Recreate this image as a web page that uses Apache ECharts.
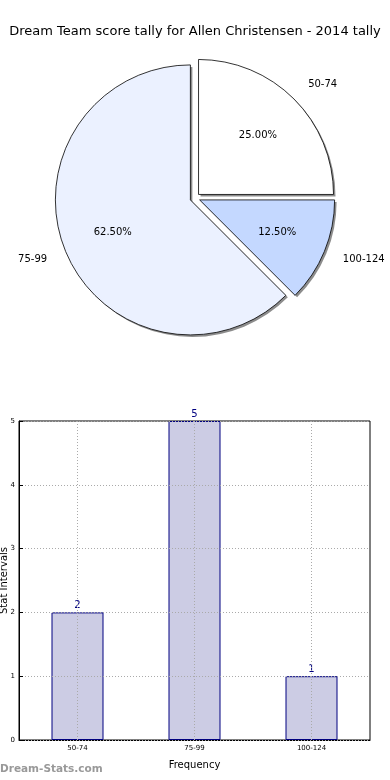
<!DOCTYPE html>
<html>
<head>
<meta charset="utf-8">
<script src="https://cdn.jsdelivr.net/npm/echarts@6/dist/echarts.min.js"></script>
<style>
html,body{margin:0;padding:0;background:#fff;}
#c{width:390px;height:780px;}
</style>
</head>
<body>
<div id="c"></div>
<script>
const titleText = 'Dream Team score tally for Allen Christensen - 2014 tally';
const categories = ['50-74', '75-99', '100-124'];
const counts = [2, 5, 1];
const pieColors = ['#ffffff', '#ebf1ff', '#c4d8ff'];
const yTicks = [0, 1, 2, 3, 4, 5];
const xName = 'Frequency';
const yName = 'Stat Intervals';
const watermark = 'Dream-Stats.com';

const FONT = 'DejaVu Sans';
const PIE_CENTER = [195, 198];
const SHADOW_SHIFT = 2;

const pieCommon = {
  type: 'pie',
  center: PIE_CENTER,
  startAngle: 0,
  clockwise: false,
  selectedMode: 'multiple',
  selectedOffset: 5,
  avoidLabelOverlap: false,
  animation: false,
  silent: true,
  emphasis: { disabled: true }
};

const mainItemStyle = { borderColor: '#000', borderWidth: 0.8 };
const shadowItemStyle = { color: 'rgba(0,0,0,0.45)', borderWidth: 0 };
const hiddenItemStyle = { color: 'rgba(0,0,0,0)', borderWidth: 0, borderColor: 'rgba(0,0,0,0)' };

const baseData = categories.map((c, i) => ({ name: c, value: counts[i], selected: true }));

const chart = echarts.init(document.getElementById('c'), null, { renderer: 'canvas' });
chart.setOption({
  animation: false,
  title: {
    text: titleText, left: 'center', top: 20,
    textStyle: { fontFamily: FONT, fontSize: 13, fontWeight: 'normal', color: '#000' }
  },
  graphic: [{
    type: 'text', left: 0, top: 764,
    style: { text: watermark, fill: '#999999', font: 'bold 10.5px "DejaVu Sans"' }
  }],
  grid: {
    left: 19, right: 20, top: 421, bottom: 40, show: true, borderColor: '#000', borderWidth: 1,
    containLabel: false, outerBoundsMode: 'none'
  },
  xAxis: {
    type: 'category', data: categories,
    axisLine: { lineStyle: { color: '#000', width: 1 } },
    axisTick: { show: true, alignWithLabel: true, inside: true, length: 4, lineStyle: { color: '#000' } },
    axisLabel: { fontSize: 7, color: '#000', margin: 5, fontFamily: FONT },
    splitLine: { show: false },
    name: xName, nameLocation: 'middle', nameGap: 20, nameMoveOverlap: false,
    nameTextStyle: { fontSize: 10, color: '#000', fontFamily: FONT }
  },
  yAxis: {
    type: 'value', min: yTicks[0], max: yTicks[yTicks.length - 1], interval: 1, z: 5,
    axisLine: { show: true, lineStyle: { color: '#000', width: 1 } },
    axisTick: { show: true, inside: true, length: 4, lineStyle: { color: '#000' } },
    axisLabel: { fontSize: 7, color: '#000', margin: 4, fontFamily: FONT },
    splitLine: { show: true, lineStyle: { color: '#aaaaaa', type: [1, 2], width: 1 } },
    name: yName, nameLocation: 'middle', nameGap: 10, nameMoveOverlap: false,
    nameTextStyle: { fontSize: 10, color: '#000', fontFamily: FONT }
  },
  series: [
    Object.assign({}, pieCommon, {
      center: [PIE_CENTER[0] + SHADOW_SHIFT, PIE_CENTER[1] + SHADOW_SHIFT],
      radius: [0, 135],
      data: baseData,
      itemStyle: shadowItemStyle,
      select: { itemStyle: shadowItemStyle },
      label: { show: false },
      labelLine: { show: false }
    }),
    Object.assign({}, pieCommon, {
      radius: [0, 135],
      data: baseData.map((d, i) => ({ name: d.name, value: d.value, selected: true, itemStyle: { color: pieColors[i] } })),
      itemStyle: mainItemStyle,
      select: { itemStyle: mainItemStyle },
      label: {
        show: true, position: 'outside', fontSize: 10, color: '#000', fontFamily: FONT,
        distanceToLabelLine: 0, alignTo: 'none'
      },
      labelLine: { show: false, length: 20, length2: 0 }
    }),
    Object.assign({}, pieCommon, {
      radius: [27, 135],
      data: baseData,
      itemStyle: hiddenItemStyle,
      select: { itemStyle: hiddenItemStyle },
      label: {
        show: true, position: 'inside', fontSize: 10, color: '#000', fontFamily: FONT,
        formatter: p => p.percent.toFixed(2) + '%'
      },
      labelLine: { show: false }
    }),
    {
      type: 'bar', data: counts, barWidth: 52,
      itemStyle: { color: '#cccce4', borderColor: '#000080', borderWidth: 1 },
      label: { show: true, position: 'top', distance: 2, fontSize: 10, color: '#000080', fontFamily: FONT },
      emphasis: { disabled: true },
      silent: true,
      markLine: {
        silent: true, symbol: 'none', label: { show: false },
        lineStyle: { color: '#aaaaaa', type: [1, 2], width: 1 },
        data: categories.map(c => ({ xAxis: c }))
      }
    }
  ]
});
</script>
</body>
</html>
